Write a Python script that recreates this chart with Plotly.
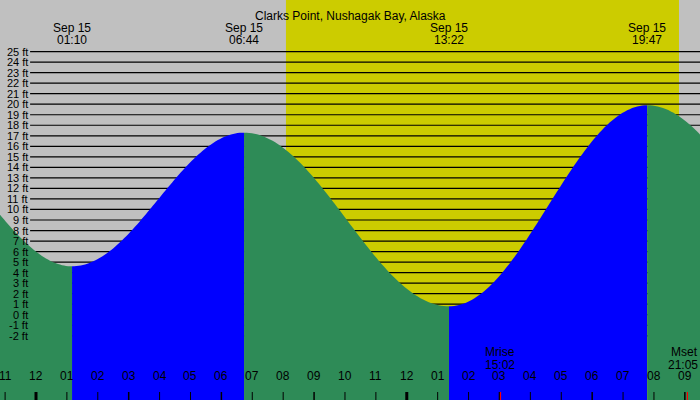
import numpy as np
import plotly.graph_objects as go

# tide extremes (hours from Sep 15 00:00, feet)
ext_t = [-3.96, 1.167, 6.733, 13.367, 19.783, 26.5]
ext_h = [16.0, 4.6, 17.3, 0.8, 19.9, 1.5]
ext_lbl = ["", "01:10", "06:44", "13:22", "19:47", ""]
sun_rise, sun_set = 8.09, 20.81
moon_events = [(15.033, "Mrise", "15:02"), (21.083, "Mset", "21:05")]
ft_levels = list(range(-2, 26))
hours = list(range(-1, 22))

X0, X1 = -1.165, 21.49
Y0, Y1 = -8.1, 29.9

def curve(a, b, n=80):
    t0, t1 = ext_t[a], ext_t[b]
    h0, h1 = ext_h[a], ext_h[b]
    t = np.linspace(t0, t1, n)
    h = h0 + (h1 - h0) * (1 - np.cos(np.pi * (t - t0) / (t1 - t0))) / 2
    return t, h

fig = go.Figure()
for i in range(len(ext_t) - 1):
    t, h = curve(i, i + 1)
    m = (t >= X0 - 0.1) & (t <= X1 + 0.1)
    t, h = t[m], h[m]
    if len(t) == 0:
        continue
    rising = ext_h[i + 1] > ext_h[i]
    col = "#0000ff" if rising else "#2e8b57"
    xs = list(t) + [t[-1], t[0]]
    ys = list(h) + [Y0, Y0]
    fig.add_trace(go.Scatter(x=xs, y=ys, fill="toself", fillcolor=col, mode="none",
                             hoverinfo="skip", showlegend=False))

shapes = [dict(type="rect", xref="x", yref="paper", x0=sun_rise, x1=sun_set, y0=0, y1=1,
               fillcolor="#cccc00", line_width=0, layer="below")]
ann = []
F = "Liberation Sans, Arial, sans-serif"
for f in ft_levels:
    shapes.append(dict(type="line", xref="paper", yref="y", x0=0.043, x1=1, y0=f, y1=f,
                       line=dict(color="black", width=1.2), layer="below"))
    ann.append(dict(xref="paper", yref="y", x=0.043, y=f, text=f"{f} ft", showarrow=False,
                    xanchor="right", font=dict(size=11, color="black", family=F)))
for hh in hours:
    lbl = "%02d" % ((hh - 1) % 12 + 1)
    ann.append(dict(xref="x", yref="paper", x=hh, y=0.0375, text=lbl, showarrow=False,
                    font=dict(size=12, color="black", family=F)))
    w = 3 if hh % 12 == 0 else 1.5 if hh % 3 == 0 else 1
    shapes.append(dict(type="line", xref="x", yref="paper", x0=hh, x1=hh, y0=0, y1=0.02,
                       line=dict(color="black", width=w)))
for t, lbl in zip(ext_t, ext_lbl):
    if lbl:
        ann.append(dict(xref="x", yref="paper", x=t, y=0.952, text="Sep 15", showarrow=False,
                        font=dict(size=12, color="black", family=F)))
        ann.append(dict(xref="x", yref="paper", x=t, y=0.922, text=lbl, showarrow=False,
                        font=dict(size=12, color="black", family=F)))
for t, a, b in moon_events:
    xa = "right" if t > X1 - 0.5 else "center"
    xx = X1 if xa == "right" else t
    ann.append(dict(xref="x", yref="paper", x=xx, y=0.097, text=a, showarrow=False, xanchor=xa,
                    font=dict(size=12, color="black", family=F)))
    ann.append(dict(xref="x", yref="paper", x=xx, y=0.065, text=b, showarrow=False, xanchor=xa,
                    font=dict(size=12, color="black", family=F)))
    shapes.append(dict(type="line", xref="x", yref="paper", x0=t, x1=t, y0=0, y1=0.02,
                       line=dict(color="red", width=1.2)))
ann.append(dict(xref="paper", yref="paper", x=0.5, y=0.983, text="Clarks Point, Nushagak Bay, Alaska",
                showarrow=False, font=dict(size=12, color="black", family=F)))

fig.update_layout(width=700, height=400, margin=dict(l=0, r=0, t=0, b=0),
                  paper_bgcolor="#c0c0c0", plot_bgcolor="#c0c0c0",
                  xaxis=dict(range=[X0, X1], visible=False, fixedrange=True),
                  yaxis=dict(range=[Y0, Y1], visible=False, fixedrange=True),
                  shapes=shapes, annotations=ann, showlegend=False)
fig.write_html("out.html", config={"displayModeBar": False},
               post_script="document.body.style.margin='0';document.body.style.overflow='hidden';")
